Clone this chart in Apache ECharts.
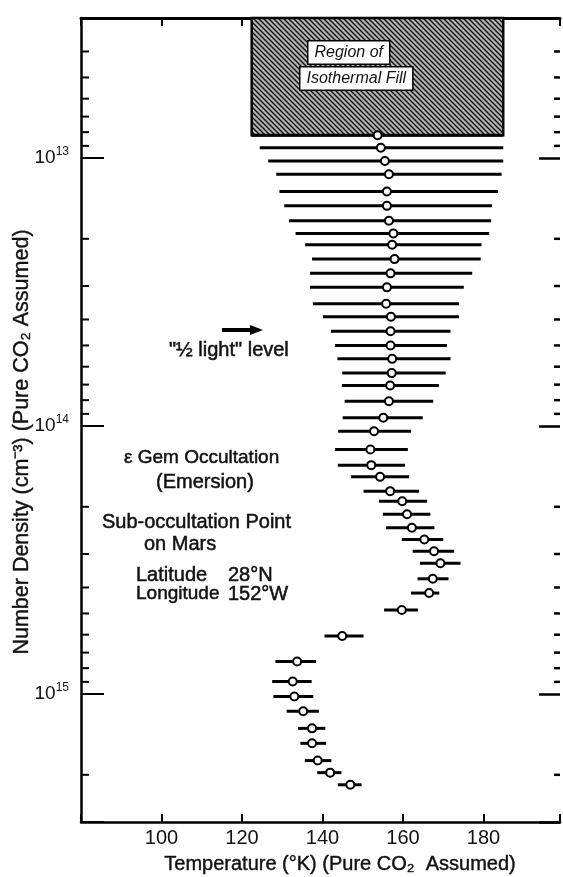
<!DOCTYPE html>
<html><head><meta charset="utf-8">
<script src="https://cdn.jsdelivr.net/npm/echarts@6/dist/echarts.min.js"></script>
<style>html,body{margin:0;padding:0;background:#fff}#c{width:563px;height:877px}</style>
</head><body><div id="c"></div>
<script>
// ---- data ----
const densities = [8.22e12, 9.14e12, 1.025e13, 1.149e13, 1.333e13, 1.507e13, 1.713e13, 1.910e13, 2.104e13, 2.381e13,
  2.691e13, 3.035e13, 3.496e13, 3.908e13, 4.424e13, 5.0e13, 5.61e13, 6.34e13, 7.05e13, 8.08e13,
  9.30e13, 1.045e14, 1.222e14, 1.398e14, 1.546e14, 1.748e14, 1.906e14, 2.132e14, 2.394e14, 2.649e14,
  2.928e14, 3.248e14, 3.712e14, 4.196e14, 4.855e14, 6.07e14, 7.56e14, 8.97e14, 1.02e15, 1.158e15,
  1.342e15, 1.526e15, 1.77e15, 1.963e15, 2.179e15];
const tempCenter = [153.7, 154.5, 155.5, 156.5, 156.0, 156.0, 156.5, 157.6, 157.3, 157.9,
  156.9, 156.0, 155.8, 157.0, 156.9, 156.9, 157.3, 157.2, 156.8, 156.5,
  155.1, 152.8, 151.9, 152.1, 154.3, 156.8, 159.8, 161.0, 162.2, 165.3,
  167.7, 169.3, 167.4, 166.5, 159.7, 144.9, 133.7, 132.6, 133.0, 135.2,
  137.4, 137.4, 138.8, 141.9, 146.9];
const tempLow = [122.4, 124.4, 126.5, 128.5, 129.3, 130.5, 131.7, 133.3, 135.7, 137.4,
  136.9, 136.9, 137.6, 140.1, 142.1, 143.1, 143.7, 144.9, 144.8, 145.5,
  145.0, 143.9, 143.1, 143.8, 147.1, 150.2, 154.0, 155.0, 155.8, 159.7,
  162.4, 164.2, 163.6, 162.0, 155.3, 140.5, 128.3, 127.5, 127.8, 131.1,
  133.9, 134.5, 135.6, 138.7, 143.8];
const tempHigh = [184.9, 184.9, 184.9, 184.5, 183.6, 182.1, 181.9, 181.4, 179.5, 179.3,
  177.2, 175.1, 173.9, 173.9, 171.8, 170.9, 171.8, 170.6, 168.9, 167.5,
  164.9, 162.0, 161.2, 160.5, 161.5, 164.0, 166.0, 166.8, 167.8, 170.0,
  172.7, 174.3, 171.3, 169.0, 163.7, 150.2, 138.4, 137.3, 137.7, 139.1,
  140.7, 140.9, 142.2, 144.7, 149.7];
const isoRegionTemp = [122.4, 184.9];
const isoRegionDensity = [3e12, 8.22e12];
const xTickLabels = [100, 120, 140, 160, 180];
const yTickLabels = [1e13, 1e14, 1e15];
const minorTickValues = [4e12, 5e12, 6e12, 7e12, 8e12, 9e12,
  2e13, 3e13, 4e13, 5e13, 6e13, 7e13, 8e13, 9e13,
  2e14, 3e14, 4e14, 5e14, 6e14, 7e14, 8e14, 9e14, 2e15];

// ---- hatch pattern ----
const pc = document.createElement('canvas'); pc.width = 5; pc.height = 5;
const g = pc.getContext('2d');
g.fillStyle = '#b4b4b4'; g.fillRect(0, 0, 5, 5);
g.strokeStyle = '#111'; g.lineWidth = 1.4;
g.beginPath();
g.moveTo(-2, -2); g.lineTo(7, 7);
g.moveTo(-2, 3); g.lineTo(2, 7);
g.moveTo(3, -2); g.lineTo(7, 2);
g.stroke();

const FONT = "'Liberation Sans', Arial, sans-serif";
const chart = echarts.init(document.getElementById('c'), null, {renderer: 'canvas'});
const lineStyle = {color: '#000', width: 2.5};
function txt(x, y, s, extra) {
  return Object.assign({type: 'text', x: x, y: y, z: 100, style: Object.assign({text: s, font: "20px " + FONT, fill: '#111',
    stroke: '#111', lineWidth: 0.5, textVerticalAlign: 'middle'}, extra || {})});
}
chart.setOption({
  animation: false,
  backgroundColor: '#fff',
  grid: {left: 81, top: 18, width: 482, height: 804, containLabel: false},
  xAxis: [
    {type: 'value', position: 'bottom', min: 80, max: 199, interval: 20, splitLine: {show: false},
      axisLine: {show: true, lineStyle: lineStyle},
      axisTick: {show: true, inside: true, length: 8, lineStyle: {color: '#000', width: 2}},
      axisLabel: {show: true, margin: 6, color: '#111', fontSize: 20, fontFamily: FONT,
        formatter: v => xTickLabels.indexOf(Math.round(v)) >= 0 && Math.abs(v - Math.round(v)) < 1e-6 ? String(Math.round(v)) : ''}},
    {type: 'value', position: 'top', min: 80, max: 199, interval: 20, splitLine: {show: false},
      axisLine: {show: true, lineStyle: {color: '#000', width: 3}},
      axisTick: {show: true, inside: true, length: 8, lineStyle: {color: '#000', width: 2}},
      axisLabel: {show: false}}
  ],
  yAxis: [
    {type: 'log', logBase: 10, position: 'left', inverse: true, min: 3e12, max: 3e15, splitLine: {show: false},
      axisLine: {show: true, lineStyle: lineStyle},
      axisTick: {show: true, inside: true, length: 23, lineStyle: {color: '#000', width: 2}},
      axisLabel: {show: true, margin: 12, color: '#111', fontFamily: FONT,
        formatter: v => {
          const e = Math.log10(v);
          const r = Math.round(e);
          if (Math.abs(e - r) < 1e-6 && yTickLabels.some(t => Math.abs(Math.log10(t) - r) < 1e-6)) return '{b|10}{s|' + r + '}';
          return '';
        },
        rich: {b: {fontSize: 19, fontFamily: FONT, color: '#111'},
               s: {fontSize: 12, fontFamily: FONT, color: '#111', verticalAlign: 'top', padding: [0, 0, 12, 0]}}}},
    {type: 'log', logBase: 10, position: 'right', inverse: true, min: 3e12, max: 3e15, splitLine: {show: false},
      axisLine: {show: false},
      axisTick: {show: true, inside: true, length: 21, lineStyle: {color: '#000', width: 2.5}},
      axisLabel: {show: false}}
  ],
  series: [
    {
      type: 'custom', xAxisIndex: 0, yAxisIndex: 0, z: 1, silent: true,
      data: [[isoRegionTemp[0], isoRegionTemp[1], isoRegionDensity[0], isoRegionDensity[1]]],
      renderItem: (params, api) => {
        const p1 = api.coord([api.value(0), api.value(2)]);
        const p2 = api.coord([api.value(1), api.value(3)]);
        return {type: 'rect', shape: {x: p1[0], y: p1[1], width: p2[0] - p1[0], height: p2[1] - p1[1]},
          style: {fill: {image: pc, repeat: 'repeat'}, stroke: '#000', lineWidth: 2.5}};
      }
    },
    {
      type: 'custom', xAxisIndex: 0, yAxisIndex: 0, z: 2, silent: true, clip: false,
      data: minorTickValues.map(v => [80, v]),
      renderItem: (params, api) => {
        const cs = params.coordSys;
        const p = api.coord([api.value(0), api.value(1)]);
        return {type: 'group', children: [
          {type: 'line', shape: {x1: cs.x, y1: p[1], x2: cs.x + 8, y2: p[1]}, style: {stroke: '#000', lineWidth: 2}},
          {type: 'line', shape: {x1: cs.x + cs.width, y1: p[1], x2: cs.x + cs.width - 6, y2: p[1]}, style: {stroke: '#000', lineWidth: 2.5}}
        ]};
      }
    },
    {
      type: 'custom', xAxisIndex: 0, yAxisIndex: 0, z: 3, silent: true,
      data: densities.map((n, i) => [tempLow[i], tempHigh[i], n]),
      encode: {x: [0, 1], y: 2},
      renderItem: (params, api) => {
        const p1 = api.coord([api.value(0), api.value(2)]);
        const p2 = api.coord([api.value(1), api.value(2)]);
        return {type: 'line', shape: {x1: p1[0], y1: p1[1], x2: p2[0], y2: p2[1]},
          style: {stroke: '#000', lineWidth: 3}};
      }
    },
    {
      type: 'scatter', xAxisIndex: 0, yAxisIndex: 0, z: 4, silent: true,
      data: densities.map((n, i) => [tempCenter[i], n]),
      symbol: 'circle', symbolSize: 8,
      itemStyle: {color: '#fff', borderColor: '#000', borderWidth: 2, opacity: 1}
    }
  ],
  graphic: [
    {type: 'text', left: 307, top: 40, z: 100, style: {text: 'Region of', font: "italic 16px " + FONT, fill: '#111',
      backgroundColor: '#fff', borderColor: '#000', borderWidth: 1.5, padding: [3, 6, 3, 6]}},
    {type: 'text', left: 299, top: 66, z: 100, style: {text: 'Isothermal Fill', font: "italic 16px " + FONT, fill: '#111',
      backgroundColor: '#fff', borderColor: '#000', borderWidth: 1.5, padding: [3, 6, 3, 6]}},
    {type: 'line', z: 100, shape: {x1: 222, y1: 330, x2: 254, y2: 330}, style: {stroke: '#000', lineWidth: 4}},
    {type: 'polygon', z: 100, shape: {points: [[250, 325], [263, 330], [250, 335]]}, style: {fill: '#000'}},
    txt(169, 350, '"½ light" level'),
    txt(124, 458, 'ε Gem Occultation', {font: "19px " + FONT}),
    txt(156, 482, '(Emersion)'),
    txt(102, 522, 'Sub-occultation Point'),
    txt(144, 544, 'on Mars'),
    txt(136, 575, 'Latitude'),
    txt(228, 575, '28°N'),
    txt(136, 594, 'Longitude', {font: "19px " + FONT}),
    txt(228, 594, '152°W'),
    txt(340, 864, 'Temperature (°K) (Pure CO₂  Assumed)', {font: "20px " + FONT, textAlign: 'center', lineWidth: 0.4}),
    {type: 'text', x: 22, y: 442, rotation: Math.PI / 2, z: 100, style: {text: 'Number Density (cm⁻³) (Pure CO₂ Assumed)',
      font: "21.5px " + FONT, fill: '#111', stroke: '#111', lineWidth: 0.4, textAlign: 'center', textVerticalAlign: 'middle'}}
  ]
});
</script>
</body></html>
